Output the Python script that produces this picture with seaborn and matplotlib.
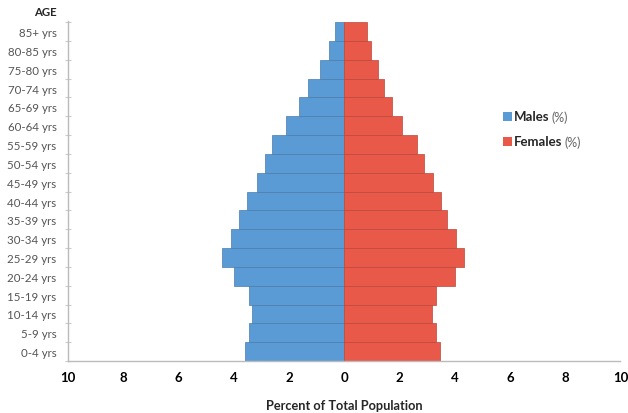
import pandas as pd
import matplotlib.pyplot as plt
import seaborn as sns
from matplotlib.patches import Rectangle

# age groups, top of pyramid first
age_groups = ['85+ yrs', '80-85 yrs', '75-80 yrs', '70-74 yrs', '65-69 yrs', '60-64 yrs',
              '55-59 yrs', '50-54 yrs', '45-49 yrs', '40-44 yrs', '35-39 yrs', '30-34 yrs',
              '25-29 yrs', '20-24 yrs', '15-19 yrs', '10-14 yrs', '5-9 yrs', '0-4 yrs']
males = [0.33, 0.55, 0.87, 1.29, 1.63, 2.11, 2.62, 2.88, 3.15, 3.53, 3.81, 4.11,
         4.41, 3.99, 3.45, 3.33, 3.45, 3.57]
females = [0.83, 0.98, 1.22, 1.46, 1.73, 2.09, 2.65, 2.90, 3.20, 3.50, 3.72, 4.04,
           4.32, 4.00, 3.32, 3.17, 3.32, 3.48]
x_ticks = [-10, -8, -6, -4, -2, 0, 2, 4, 6, 8, 10]

blue = '#5b9bd5'
red = '#e8594a'

df = pd.concat([
    pd.DataFrame({'age': age_groups, 'pct': [-v for v in males], 'sex': 'Males'}),
    pd.DataFrame({'age': age_groups, 'pct': females, 'sex': 'Females'}),
])

sns.set_theme(style='white')
plt.rcParams['font.family'] = ['Lato', 'DejaVu Sans']

fig = plt.figure(figsize=(6.28, 4.14), dpi=100)
ax = fig.add_axes([0.108, 0.1256, 0.880, 0.822])

sns.barplot(data=df, x='pct', y='age', hue='sex', order=age_groups,
            palette={'Males': blue, 'Females': red}, dodge=False, width=1.0,
            saturation=1, orient='h', legend=False, ax=ax)

# thin darker outlines between bars
for bar in ax.patches:
    fc = bar.get_facecolor()
    bar.set_edgecolor((fc[0] * 0.8, fc[1] * 0.8, fc[2] * 0.8, 1))
    bar.set_linewidth(0.5)

ax.set_xlim(-10, 10)
ax.set_ylim(17.5, -0.58)
ax.set_xticks(x_ticks)
ax.set_xticklabels([str(abs(t)) for t in x_ticks], fontweight='bold', fontsize=9.5, color='black')
ax.tick_params(axis='x', direction='inout', length=6, width=0.8, color='#aaaaaa', pad=4)
ax.tick_params(axis='y', length=0, pad=8, labelsize=8.3, labelcolor='#555555')
ax.set_yticks([i + 0.5 for i in range(-1, len(age_groups))], minor=True)
ax.tick_params(axis='y', which='minor', direction='inout', length=4, width=0.8, color='#cccccc', left=True)

ax.set_xlabel('Percent of Total Population', fontweight='bold', fontsize=9.2, labelpad=12)
ax.set_ylabel('')

sns.despine(ax=ax, top=True, right=True)
for side in ['left', 'bottom']:
    ax.spines[side].set_color('#bbbbbb')
    ax.spines[side].set_linewidth(1.0)

fig.text(57 / 628, 1 - 12 / 414, 'AGE', ha='right', va='center', fontweight='bold', fontsize=8.2)

# legend drawn by hand, as in the original
for label, color, yc in [('Males', blue, 117.5), ('Females', red, 142.5)]:
    fig.add_artist(Rectangle((503 / 628, 1 - (yc + 4.5) / 414), 9 / 628, 9 / 414,
                             transform=fig.transFigure, facecolor=color, edgecolor='none'))
    t = fig.text(513.5 / 628, 1 - yc / 414, label, ha='left', va='center',
                 fontweight='bold', fontsize=9.5)
    fig.canvas.draw()
    bb = t.get_window_extent()
    fig.text((bb.x1 + 3) / 628, 1 - yc / 414, '(%)', ha='left', va='center',
             fontsize=9, color='#666666')

fig.savefig('out.png', dpi=100)
